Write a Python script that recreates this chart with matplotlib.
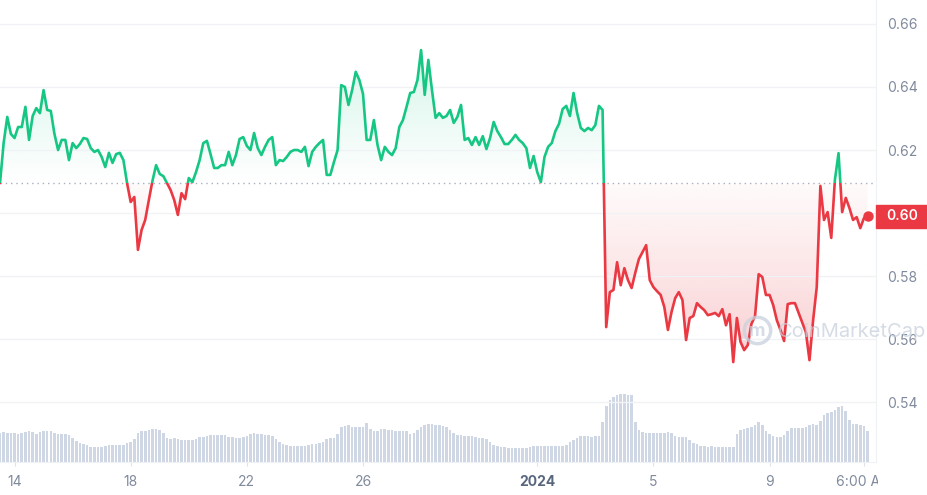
import numpy as np
import pandas as pd
import matplotlib
matplotlib.use('Agg')
import matplotlib.pyplot as plt
import matplotlib.dates as mdates
from matplotlib.patches import Rectangle
from matplotlib.path import Path
from matplotlib.transforms import Bbox, TransformedBbox
from matplotlib.colors import to_rgb

plt.rcParams['font.family'] = ['Inter', 'DejaVu Sans']

#####
# Data (one point every 3 hours)

start = '2023-12-13 12:00'

price = [
    0.6095, 0.6222, 0.6305, 0.6251, 0.6238, 0.6273, 0.6273, 0.6337, 0.6232, 0.6308,
    0.6333, 0.6317, 0.6390, 0.6327, 0.6324, 0.6251, 0.6200, 0.6232, 0.6232, 0.6168,
    0.6222, 0.6206, 0.6219, 0.6238, 0.6235, 0.6206, 0.6194, 0.6200, 0.6178, 0.6146,
    0.6191, 0.6159, 0.6187, 0.6191, 0.6168, 0.6095, 0.6035, 0.6051, 0.5883, 0.5946,
    0.5978, 0.6041, 0.6102, 0.6152, 0.6124, 0.6117, 0.6095, 0.6073, 0.6041, 0.5994,
    0.6063, 0.6044, 0.6111, 0.6098, 0.6130, 0.6168, 0.6222, 0.6229, 0.6187, 0.6143,
    0.6143, 0.6152, 0.6152, 0.6194, 0.6152, 0.6184, 0.6235, 0.6241, 0.6213, 0.6200,
    0.6254, 0.6206, 0.6184, 0.6210, 0.6232, 0.6241, 0.6152, 0.6168, 0.6165, 0.6178,
    0.6194, 0.6200, 0.6200, 0.6194, 0.6210, 0.6149, 0.6194, 0.6210, 0.6222, 0.6232,
    0.6121, 0.6121, 0.6162, 0.6200, 0.6406, 0.6400, 0.6343, 0.6390, 0.6448, 0.6422,
    0.6378, 0.6232, 0.6232, 0.6295, 0.6216, 0.6168, 0.6210, 0.6194, 0.6184, 0.6206,
    0.6273, 0.6295, 0.6337, 0.6381, 0.6384, 0.6422, 0.6517, 0.6375, 0.6486, 0.6390,
    0.6302, 0.6317, 0.6302, 0.6308, 0.6327, 0.6286, 0.6305, 0.6343, 0.6232, 0.6238,
    0.6216, 0.6241, 0.6216, 0.6244, 0.6203, 0.6238, 0.6289, 0.6260, 0.6241, 0.6219,
    0.6219, 0.6232, 0.6248, 0.6232, 0.6222, 0.6206, 0.6143, 0.6181, 0.6130, 0.6098,
    0.6178, 0.6210, 0.6222, 0.6260, 0.6283, 0.6330, 0.6340, 0.6308, 0.6381, 0.6317,
    0.6270, 0.6260, 0.6270, 0.6263, 0.6279, 0.6340, 0.6327, 0.5638, 0.5749, 0.5756,
    0.5844, 0.5771, 0.5825, 0.5787, 0.5762, 0.5810, 0.5854, 0.5876, 0.5898, 0.5787,
    0.5765, 0.5752, 0.5740, 0.5702, 0.5629, 0.5686, 0.5730, 0.5749, 0.5724, 0.5597,
    0.5667, 0.5673, 0.5714, 0.5702, 0.5692, 0.5676, 0.5679, 0.5683, 0.5673, 0.5695,
    0.5644, 0.5679, 0.5527, 0.5667, 0.5591, 0.5565, 0.5581, 0.5648, 0.5673, 0.5806,
    0.5797, 0.5740, 0.5740, 0.5708, 0.5660, 0.5629, 0.5594, 0.5711, 0.5714, 0.5714,
    0.5683, 0.5651, 0.5622, 0.5533, 0.5660, 0.5765, 0.6086, 0.5978, 0.6003, 0.5921,
    0.6105, 0.6190, 0.6003, 0.6048, 0.6016, 0.5978, 0.5987, 0.5952, 0.5984, 0.5990,
]

# 24h volume, relative units
volume = [
    29, 30, 29, 29, 29, 28, 29, 30, 31, 30,
    28, 30, 31, 31, 31, 29, 28, 28, 28, 27,
    24, 21, 19, 18, 17, 15, 15, 15, 15, 16,
    17, 17, 17, 17, 17, 19, 20, 23, 29, 31,
    31, 32, 33, 33, 32, 29, 24, 23, 24, 23,
    22, 22, 22, 22, 23, 25, 25, 26, 27, 27,
    27, 27, 27, 25, 25, 24, 24, 25, 26, 28,
    29, 28, 28, 27, 27, 26, 23, 20, 18, 17,
    16, 16, 16, 16, 16, 17, 18, 18, 19, 20,
    23, 24, 24, 28, 35, 36, 37, 35, 35, 35,
    35, 39, 33, 31, 31, 33, 33, 32, 32, 31,
    31, 31, 31, 28, 29, 32, 35, 37, 38, 38,
    37, 37, 36, 35, 32, 29, 27, 27, 26, 26,
    26, 25, 24, 24, 23, 20, 17, 16, 15, 15,
    14, 14, 14, 14, 14, 14, 15, 16, 16, 16,
    16, 16, 16, 16, 16, 16, 17, 20, 22, 24,
    26, 26, 26, 25, 26, 26, 40, 56, 62, 65,
    67, 68, 68, 67, 67, 40, 32, 30, 29, 29,
    29, 29, 29, 29, 30, 29, 26, 25, 25, 25,
    22, 19, 18, 16, 16, 15, 16, 15, 15, 15,
    15, 15, 15, 28, 32, 33, 34, 35, 37, 40,
    37, 31, 28, 26, 25, 25, 27, 31, 34, 34,
    34, 34, 35, 37, 38, 37, 41, 47, 49, 50,
    52, 55, 56, 51, 42, 38, 38, 37, 36, 31,
]

price_ticks = [0.54, 0.56, 0.58, 0.60, 0.62, 0.64, 0.66]
date_ticks = ['2023-12-14 00:00', '2023-12-18 00:00', '2023-12-22 00:00',
              '2023-12-26 00:00', '2024-01-01 00:00', '2024-01-05 00:00',
              '2024-01-09 00:00', '2024-01-12 06:00']
date_labels = ['14', '18', '22', '26', '2024', '5', '9', '6:00 AM']

GREEN = '#16c784'
RED = '#ea3943'
GREY = '#808a9d'

#####
# Plot

price = np.array(price)
t = mdates.date2num(pd.date_range(start, periods=len(price), freq='3h'))
base = price[0]
t0 = mdates.date2num(pd.Timestamp(start))
xlim = (t0, t0 + 876 / 29.04)
ylim = (0.5210, 0.6676)

fig = plt.figure(figsize=(9.28, 4.95), dpi=100)
rect = [0, 33 / 495, 876 / 928, 462 / 495]

axv = fig.add_axes(rect)
axv.bar(t, volume, width=0.09, color='#cfd6e4', linewidth=0)
axv.set_xlim(*xlim)
axv.set_ylim(0, max(volume) * 462 / 68)
axv.axis('off')

ax = fig.add_axes(rect)
ax.patch.set_visible(False)


def gradient_fill(where, color, lo, hi, a_lo, a_hi):
    poly = ax.fill_between(t, price, base, where=where, interpolate=True,
                           facecolor='none', edgecolor='none')
    clip = Path.make_compound_path(*poly.get_paths())
    poly.remove()
    img = np.zeros((256, 1, 4))
    img[..., :3] = to_rgb(color)
    img[..., 3] = np.linspace(a_lo, a_hi, 256)[:, None]
    im = ax.imshow(img, extent=[t[0], t[-1], lo, hi], origin='lower',
                   aspect='auto', zorder=1, interpolation='bilinear')
    im.set_clip_path(clip, ax.transData)


gradient_fill(price >= base, GREEN, base, price.max(), 0.0, 0.18)
gradient_fill(price <= base, RED, price.min(), base, 0.24, 0.02)

# price line, green above the opening price and red below it
for color, lo, hi in ((GREEN, base, 1.0), (RED, 0.0, base)):
    line, = ax.plot(t, price, color=color, lw=1.9, zorder=3,
                    solid_joinstyle='round', solid_capstyle='round')
    clip = Rectangle((t[0] - 1, lo), t[-1] - t[0] + 2, hi - lo,
                     transform=ax.transData)
    line.set_clip_path(clip)

ax.plot(t[-1], price[-1], 'o', color=RED, ms=6.5, zorder=4)
ax.axhline(base, color='#a6b0c3', lw=1, ls=(0, (1, 2.8)), zorder=2)

ax.set_xlim(*xlim)
ax.set_ylim(*ylim)

ax.yaxis.tick_right()
ax.set_yticks(price_ticks)
ax.set_yticklabels([f'{v:.2f}' for v in price_ticks])
ax.tick_params(axis='y', length=0, pad=8, labelcolor=GREY, labelsize=10)
ax.grid(axis='y', color='#f1f2f5', lw=1, zorder=0)

ax.set_xticks(mdates.date2num(pd.to_datetime(date_ticks)))
ax.set_xticklabels(date_labels)
ax.tick_params(axis='x', length=3, width=0.8, color='#dfe3ea', pad=6,
               labelcolor=GREY, labelsize=10)
ax.get_xticklabels()[4].set_fontweight('bold')
ax.get_xticklabels()[4].set_color('#58667e')

for side in ('top', 'left'):
    ax.spines[side].set_visible(False)
for side in ('right', 'bottom'):
    ax.spines[side].set_color('#eff2f5')

# the last label is cut by the chart edge
last = ax.xaxis.get_major_ticks()[-1].label1
last.set_clip_box(TransformedBbox(Bbox([[0, 0], [878 / 928, 1]]), fig.transFigure))
last.set_clip_on(True)

# watermark (it runs under the 0.56 label, as in the source)
fig.text(778 / 928, 1 - 332 / 495, 'CoinMarketCap', fontsize=14.5,
         color='#c9d1dd', alpha=0.75, va='center', ha='left', zorder=6)
ax.plot([757 / 928], [1 - 330 / 495], marker='o', ms=19, mfc='none',
        mec='#c9d1dd', mew=2.5, alpha=0.75, transform=fig.transFigure,
        clip_on=False, zorder=6)
fig.text(757 / 928, 1 - 331 / 495, 'm', fontsize=13, fontweight='bold',
         color='#c9d1dd', alpha=0.75, ha='center', va='center', zorder=6)

# last price tag
fig.canvas.draw()
y_last = ax.transData.transform((t[-1], price[-1]))[1] / 495
tag = Rectangle((876 / 928, y_last - 11.5 / 495), 52 / 928, 23 / 495,
                transform=fig.transFigure, color=RED, zorder=5)
fig.add_artist(tag)
fig.text(902 / 928, y_last, f'{price[-1]:.2f}', color='white', fontsize=10,
         fontweight='semibold', ha='center', va='center', zorder=6)

fig.savefig('out.png', dpi=100)
